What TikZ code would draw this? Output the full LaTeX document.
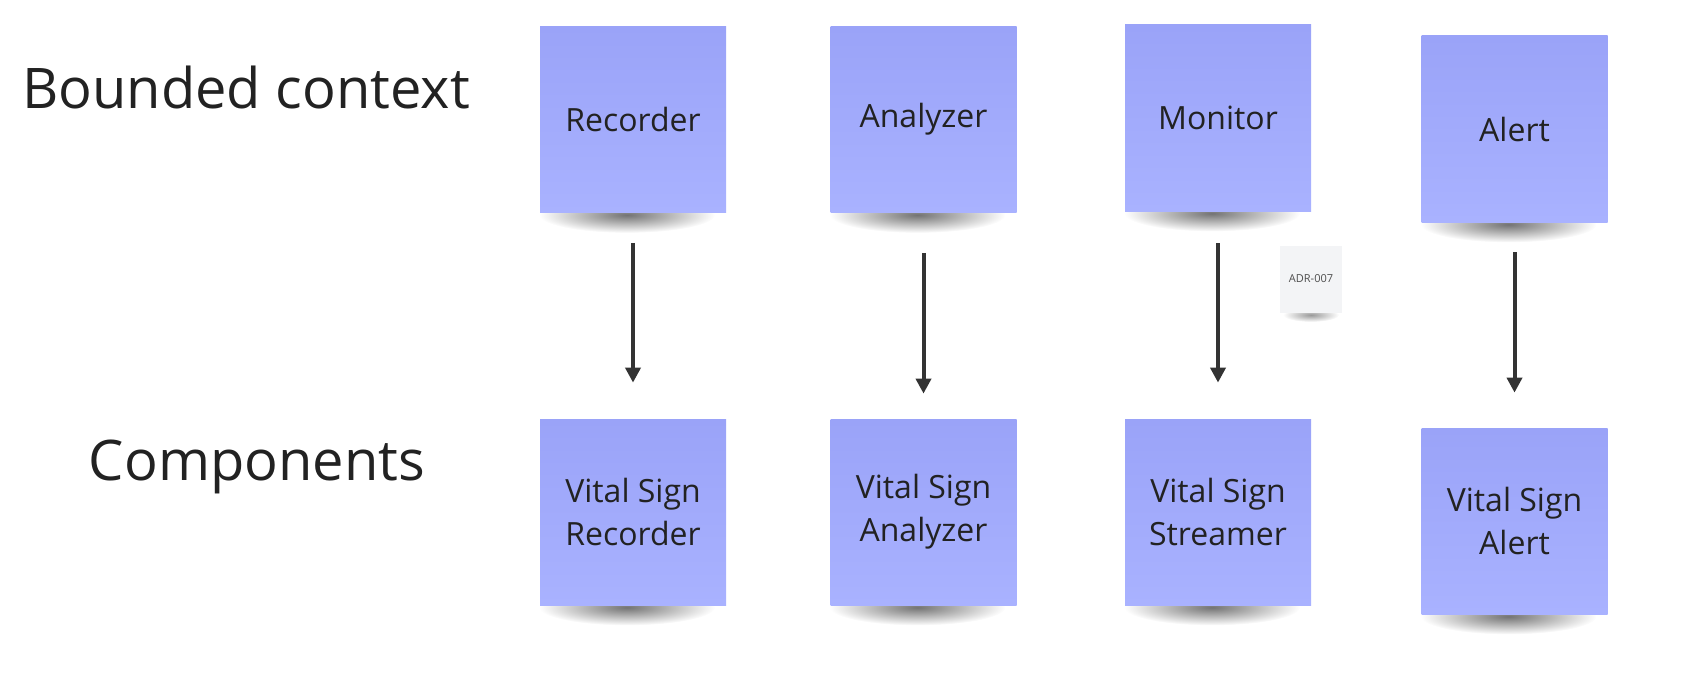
\documentclass[tikz,border=0pt]{standalone}
\usepackage{fontspec}
\setmainfont{Open Sans}
\usepackage{tikz}
\usetikzlibrary{arrows.meta,positioning,backgrounds,calc}
\definecolor{ink}{HTML}{222222}
\definecolor{wire}{HTML}{333333}
\definecolor{stickytop}{HTML}{9AA3F8}
\definecolor{stickybot}{HTML}{A9B2FF}
\definecolor{memo}{HTML}{F3F4F6}
\tikzset{
  sticky/.style={rectangle, top color=stickytop, bottom color=stickybot, draw=none,
                 minimum width=93pt, minimum height=93pt, align=center, text=ink,
                 font=\fontsize{16}{21.5}\selectfont},
  memobox/.style={rectangle, fill=memo, draw=none, minimum width=31pt, minimum height=33.5pt,
                  text=ink!80, font=\fontsize{5.5}{7}\selectfont},
  rowlbl/.style={anchor=base, text=ink, font=\fontsize{28}{34}\selectfont},
  flow/.style={-{Triangle[length=7.5pt,width=7.5pt]}, draw=wire, line width=2pt}
}

\begin{document}
\begin{tikzpicture}[x=0.5pt, y=-0.5pt]
 \useasboundingbox (0,0) rectangle (1684,674);
 \node[rowlbl] (bc) at (246,109) {Bounded context};
 \node[rowlbl] (cp) at (257,480) {Components};
 % bounded contexts
 \node[sticky] (rec)  at (633,119.5)  {Recorder};
 \node[sticky] (ana)  at (923.5,119.5) {Analyzer};
 \node[sticky] (mon)  at (1218,118)   {Monitor};
 \node[sticky] (alr)  at (1514.5,129) {Alert};
 % components
 \node[sticky] (vsrec) at (633,512)    {Vital Sign\\Recorder};
 \node[sticky] (vsana) at (923.5,512)  {Vital Sign\\Analyzer};
 \node[sticky] (vsstr) at (1218,512)   {Vital Sign\\Streamer};
 \node[sticky] (vsalr) at (1514.5,521) {Vital Sign\\Alert};
 \node[memobox] (adr) at (1311,279) {ADR-007};
 \draw[flow, shorten <=15pt, shorten >=18pt] (rec.south) -- (vsrec.north);
 \draw[flow, shorten <=20pt, shorten >=12.5pt] (ana.south) -- (vsana.north);
 \draw[flow, shorten <=16pt, shorten >=18pt] (mon.south) -- (vsstr.north);
 \draw[flow, shorten <=15pt, shorten >=17.5pt] (alr.south) -- (vsalr.north);
 \begin{scope}[on background layer]
  \foreach \n in {rec,ana,mon,alr,vsrec,vsana,vsstr,vsalr}
   \shade[inner color=black!55, outer color=white] ($(\n.south)+(-3pt,-1pt)$) ellipse (44pt and 9pt);
  \shade[inner color=black!40, outer color=white] ($(adr.south)+(0,-1pt)$) ellipse (14pt and 3.5pt);
 \end{scope}
\end{tikzpicture}
\end{document}
